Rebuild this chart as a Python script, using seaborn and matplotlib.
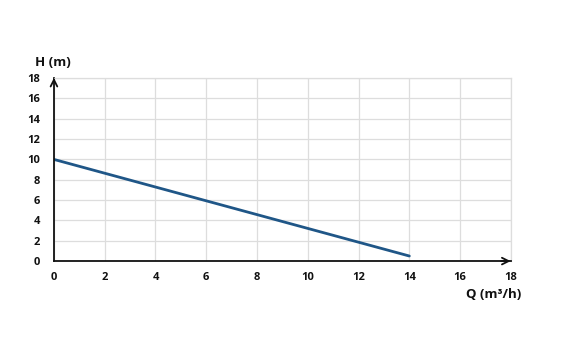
import matplotlib
matplotlib.use("Agg")
import matplotlib.pyplot as plt
import seaborn as sns
import pandas as pd

flow = [0, 14]
head = [10, 0.5]
x_ticks = [0, 2, 4, 6, 8, 10, 12, 14, 16, 18]
y_ticks = [0, 2, 4, 6, 8, 10, 12, 14, 16, 18]

sns.set_theme(style="white")
plt.rcParams['font.family'] = ['Open Sans', 'DejaVu Sans']

df = pd.DataFrame({"Q": flow, "H": head})

fig = plt.figure(figsize=(5.62, 3.44), dpi=100)
ax = fig.add_axes([0.096, 0.241, 0.813, 0.532])
sns.lineplot(data=df, x="Q", y="H", ax=ax, color="#1f5687", linewidth=2.0)

ax.set_xlim(0, 18)
ax.set_ylim(0, 18)
ax.set_xticks(x_ticks)
ax.set_yticks(y_ticks)
ax.set_xticklabels([str(t) for t in x_ticks], fontsize=8, fontweight='bold', color="#111111")
ax.set_yticklabels([str(t) for t in y_ticks], fontsize=8, fontweight='bold', color="#111111")
ax.grid(True, color="#dddddd", linewidth=0.9)
ax.set_axisbelow(True)
for s in ["top", "right"]:
    ax.spines[s].set_visible(True)
    ax.spines[s].set_color("#dddddd")
    ax.spines[s].set_linewidth(0.9)
for s in ["left", "bottom"]:
    ax.spines[s].set_color("#111111")
    ax.spines[s].set_linewidth(1.3)
ax.tick_params(axis='x', length=0, pad=8)
ax.tick_params(axis='y', length=0, pad=10)
ax.set_xlabel("")
ax.set_ylabel("")

# arrows on axes
ax.annotate("", xy=(18.1, 0), xytext=(17.5, 0), xycoords='data',
            arrowprops=dict(arrowstyle="->", color="#111111", lw=1.3), annotation_clip=False)
ax.annotate("", xy=(0, 18.3), xytext=(0, 17.5), xycoords='data',
            arrowprops=dict(arrowstyle="->", color="#111111", lw=1.3), annotation_clip=False)

fig.text(35/562, 1 - 62/344, "H (m)", fontsize=9.5, fontweight='bold', color="#111111",
         ha='left', va='center')
fig.text(521/562, 1 - 295/344, "Q (m³/h)", fontsize=9.5, fontweight='bold', color="#111111",
         ha='right', va='center')

fig.savefig("out.png", dpi=100, facecolor="white")
